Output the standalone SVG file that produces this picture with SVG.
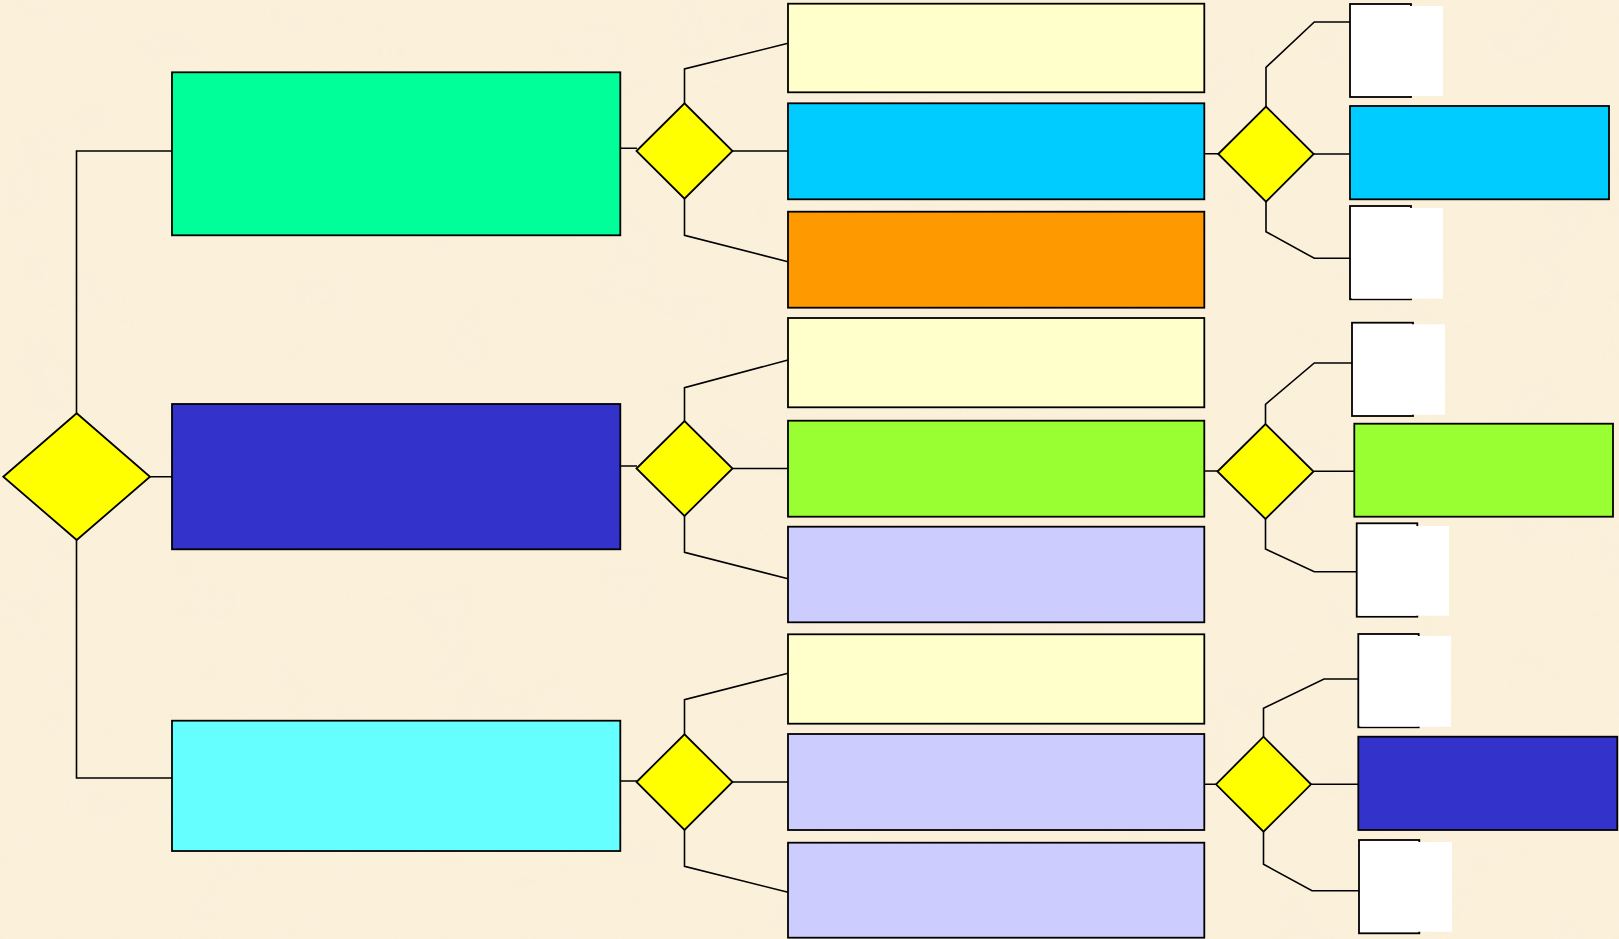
<svg xmlns="http://www.w3.org/2000/svg" width="1619" height="939" viewBox="0 0 1619 939">
<style>
.box{stroke:#000;stroke-width:1.8}
.dia{fill:#FFFF00;stroke:#000;stroke-width:1.8;stroke-linejoin:miter}
.ln{fill:none;stroke:#000;stroke-width:1.6}
.wt{fill:#FFFFFF;stroke:none}
.ol{fill:#FFFFFF;stroke:#000;stroke-width:1.8}
</style>
<defs>
<filter id="parch" x="0" y="0" width="100%" height="100%">
<feTurbulence type="fractalNoise" baseFrequency="0.012" numOctaves="3" seed="7" result="n"/>
<feColorMatrix in="n" type="matrix" values="0 0 0 0 0.94  0 0 0 0 0.87  0 0 0 0 0.72  1.2 0 0 0 -0.45"/>
</filter>
</defs>
<rect x="0" y="0" width="1619" height="939" fill="#FBF0DA"/>
<rect x="0" y="0" width="1619" height="939" filter="url(#parch)" opacity="0.5"/>
<g id="connectors">
<path class="ln" d="M172,151 H76.5 V413.3 M76.5,540 V778 H172 M150,476.7 H172"/>
<path class="ln" d="M620.3,148.3 H637 M620.3,466 H637 M620.3,781 H637"/>
<path class="ln" d="M684.5,103.3 V69 L788,43.3 M732.5,151 H788 M684.5,198.7 V235.3 L788,261.7"/>
<path class="ln" d="M684.5,421 V387.7 L788,360 M732.5,468.5 H788 M684.5,516 V552.3 L788,578.7"/>
<path class="ln" d="M684.5,734.3 V699.7 L788,673.3 M732.5,782 H788 M684.5,830 V866.3 L788,892.3"/>
<path class="ln" d="M1204.3,153.7 H1219 M1204.3,471 H1218 M1204.3,784.3 H1217"/>
<path class="ln" d="M1266,106.5 V67.3 L1314.3,22 H1350 M1313.7,154 H1350 M1266,201.7 V231.7 L1314.3,258.3 H1350"/>
<path class="ln" d="M1265.5,424 V404.3 L1314.3,363 H1352 M1313.5,471.3 H1354.3 M1265.5,519 V549 L1314.3,571.7 H1356.7"/>
<path class="ln" d="M1263.5,736.7 V708.3 L1324,679 H1358.3 M1311,784.3 H1358.3 M1263.5,831.7 V864.3 L1312,890.7 H1359"/>
</g>
<g id="root-decision"><polygon class="dia" points="3.3,476.7 76.7,413.3 150,476.7 76.7,540"/></g>
<g id="branch-1"><rect class="box" x="172" y="72.3" width="448.3" height="163" fill="#00FF99"/></g>
<g id="branch-2"><rect class="box" x="172" y="404" width="448.3" height="145.3" fill="#3333CC"/></g>
<g id="branch-3"><rect class="box" x="172" y="720.7" width="448.3" height="130.3" fill="#66FFFF"/></g>
<g id="decision-1"><polygon class="dia" points="636.5,151 684.5,103.3 732.5,151 684.5,198.7"/></g>
<g id="decision-2"><polygon class="dia" points="636.5,468.5 684.5,421 732.5,468.5 684.5,516"/></g>
<g id="decision-3"><polygon class="dia" points="636.5,782 684.5,734.3 732.5,782 684.5,830"/></g>
<g id="option-1a"><rect class="box" x="788" y="3.7" width="416.3" height="88.6" fill="#FFFFCC"/></g>
<g id="option-1b"><rect class="box" x="788" y="103.3" width="416.3" height="96" fill="#00CCFF"/></g>
<g id="option-1c"><rect class="box" x="788" y="211.7" width="416.3" height="96" fill="#FF9900"/></g>
<g id="option-2a"><rect class="box" x="788" y="318" width="416.3" height="89.3" fill="#FFFFCC"/></g>
<g id="option-2b"><rect class="box" x="788" y="420.7" width="416.3" height="96" fill="#99FF33"/></g>
<g id="option-2c"><rect class="box" x="788" y="526.7" width="416.3" height="95.6" fill="#CCCCFF"/></g>
<g id="option-3a"><rect class="box" x="788" y="634.3" width="416.3" height="89.4" fill="#FFFFCC"/></g>
<g id="option-3b"><rect class="box" x="788" y="734" width="416.3" height="96" fill="#CCCCFF"/></g>
<g id="option-3c"><rect class="box" x="788" y="842.7" width="416.3" height="95" fill="#CCCCFF"/></g>
<g id="decision-1b"><polygon class="dia" points="1218.3,154 1266,106.5 1313.7,154 1266,201.7"/></g>
<g id="decision-2b"><polygon class="dia" points="1217.5,471.5 1265.5,424 1313.5,471.5 1265.5,519"/></g>
<g id="decision-3b"><polygon class="dia" points="1216,784.3 1263.5,736.7 1311,784.3 1263.5,831.7"/></g>
<g id="result-1a"><rect class="ol" x="1350" y="4" width="61" height="93"/><rect class="wt" x="1352" y="6" width="91" height="90"/></g>
<g id="result-1b"><rect class="box" x="1350" y="106" width="259" height="93.3" fill="#00CCFF"/></g>
<g id="result-1c"><rect class="ol" x="1350" y="206" width="61" height="93.3"/><rect class="wt" x="1352" y="208" width="91" height="90.7"/></g>
<g id="result-2a"><rect class="ol" x="1352" y="322.7" width="61" height="93.3"/><rect class="wt" x="1354" y="324.3" width="91" height="90.4"/></g>
<g id="result-2b"><rect class="box" x="1354.3" y="423.7" width="258.7" height="93" fill="#99FF33"/></g>
<g id="result-2c"><rect class="ol" x="1356.7" y="523.3" width="60.6" height="93.4"/><rect class="wt" x="1358.7" y="526" width="90.3" height="89.7"/></g>
<g id="result-3a"><rect class="ol" x="1358.3" y="634" width="60.4" height="93.3"/><rect class="wt" x="1360.3" y="636" width="90.7" height="90.7"/></g>
<g id="result-3b"><rect class="box" x="1358.3" y="736.7" width="259" height="93.3" fill="#3333CC"/></g>
<g id="result-3c"><rect class="ol" x="1359" y="840" width="60.3" height="93.3"/><rect class="wt" x="1361" y="842" width="91" height="89.7"/></g>
</svg>
